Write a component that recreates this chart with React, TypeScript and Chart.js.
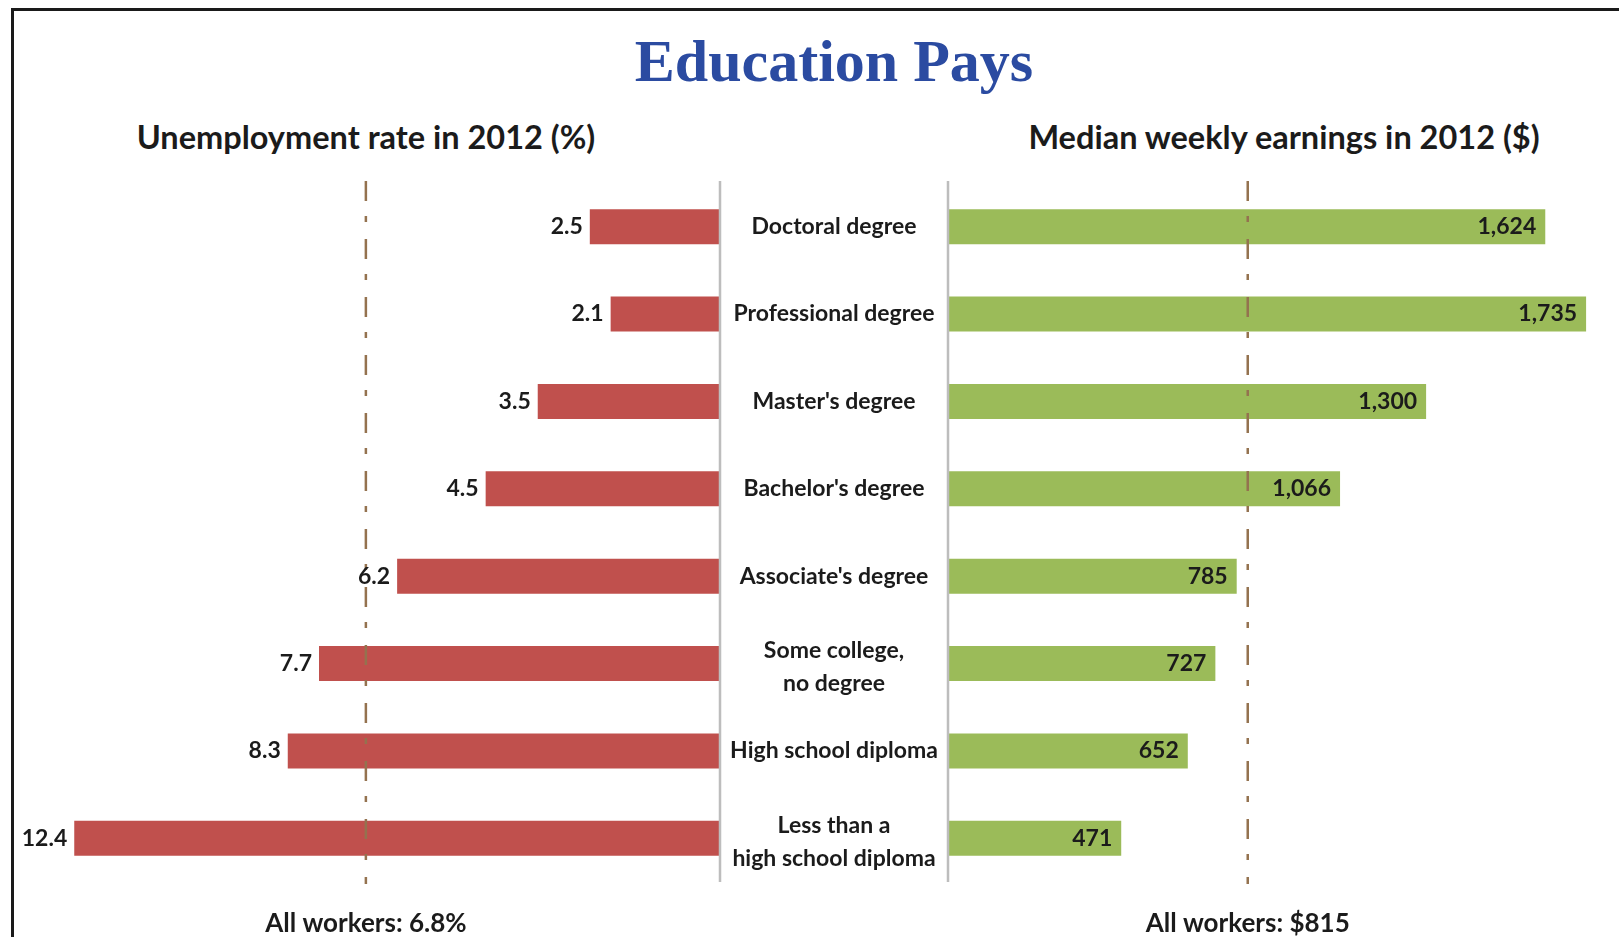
import React, { useEffect, useRef } from "react";
import { Chart, registerables } from "chart.js";

Chart.register(...registerables);

const categories: string[][] = [
  ["Doctoral degree"],
  ["Professional degree"],
  ["Master's degree"],
  ["Bachelor's degree"],
  ["Associate's degree"],
  ["Some college,", "no degree"],
  ["High school diploma"],
  ["Less than a", "high school diploma"],
];
const unemploymentRates = [2.5, 2.1, 3.5, 4.5, 6.2, 7.7, 8.3, 12.4];
const weeklyEarnings = [1624, 1735, 1300, 1066, 785, 727, 652, 471];
const allWorkersRate = 6.8;
const allWorkersEarnings = 815;
const rateAxisMax = 13;
const earningsAxisMax = 1800;

const FONT = "Lato, 'Open Sans', sans-serif";
const RED = "#C0504D";
const GREEN = "#9BBB59";
const DASH_COLOR = "#94724f";
const AXIS_COLOR = "#bdbdbd";
const TEXT = "#1b1b1b";
const TITLE_BLUE = "#2b4ba1";

function drawDashed(ctx: CanvasRenderingContext2D, x: number, top: number, bottom: number) {
  ctx.save();
  ctx.strokeStyle = DASH_COLOR;
  ctx.lineWidth = 2.5;
  ctx.setLineDash([20, 15, 6, 17]);
  ctx.beginPath();
  ctx.moveTo(x, top);
  ctx.lineTo(x, bottom);
  ctx.stroke();
  ctx.restore();
}

function drawAxis(ctx: CanvasRenderingContext2D, x: number, top: number, bottom: number) {
  ctx.save();
  ctx.strokeStyle = AXIS_COLOR;
  ctx.lineWidth = 2.5;
  ctx.beginPath();
  ctx.moveTo(x, top);
  ctx.lineTo(x, bottom);
  ctx.stroke();
  ctx.restore();
}

export default function App() {
  const leftRef = useRef<HTMLCanvasElement>(null);
  const rightRef = useRef<HTMLCanvasElement>(null);

  useEffect(() => {
    const leftPlugin = {
      id: "leftDecor",
      afterDatasetsDraw(chart: any) {
        const ctx = chart.ctx as CanvasRenderingContext2D;
        const area = chart.chartArea;
        const xs = chart.scales.x;
        drawAxis(ctx, area.right, area.top - 2, area.bottom);
        const ax = xs.getPixelForValue(allWorkersRate);
        drawDashed(ctx, ax, area.top - 2, area.bottom + 2);
        ctx.save();
        ctx.fillStyle = TEXT;
        ctx.font = `bold 23px ${FONT}`;
        ctx.textAlign = "right";
        ctx.textBaseline = "middle";
        const meta = chart.getDatasetMeta(0);
        meta.data.forEach((el: any, i: number) => {
          ctx.fillText(unemploymentRates[i].toFixed(1), el.x - 7, el.y);
        });
        ctx.textAlign = "center";
        ctx.font = `bold 26px ${FONT}`;
        ctx.fillText(`All workers: ${allWorkersRate}%`, ax, 924);
        ctx.restore();
      },
    };

    const rightPlugin = {
      id: "rightDecor",
      afterDatasetsDraw(chart: any) {
        const ctx = chart.ctx as CanvasRenderingContext2D;
        const area = chart.chartArea;
        const xs = chart.scales.x;
        const ys = chart.scales.y;
        drawAxis(ctx, area.left, area.top - 2, area.bottom);
        const ax = xs.getPixelForValue(allWorkersEarnings);
        drawDashed(ctx, ax, area.top - 2, area.bottom + 2);
        ctx.save();
        ctx.fillStyle = TEXT;
        ctx.textBaseline = "middle";
        // category labels centred between the two axis lines
        ctx.font = `bold 23px ${FONT}`;
        ctx.textAlign = "center";
        const lh = 33;
        categories.forEach((lines, i) => {
          const cy = ys.getPixelForValue(i);
          const start = cy - ((lines.length - 1) * lh) / 2 + (lines.length > 1 ? 4 : 0);
          lines.forEach((ln, j) => ctx.fillText(ln, area.left / 2, start + j * lh));
        });
        // values inside the bars
        ctx.font = `bold 23px ${FONT}`;
        ctx.textAlign = "right";
        const meta = chart.getDatasetMeta(0);
        meta.data.forEach((el: any, i: number) => {
          ctx.fillText(weeklyEarnings[i].toLocaleString("en-US"), el.x - 9, el.y);
        });
        ctx.textAlign = "center";
        ctx.font = `bold 26px ${FONT}`;
        ctx.fillText(`All workers: $${allWorkersEarnings}`, ax, 924);
        ctx.restore();
      },
    };

    const labels = categories.map((c) => c.join(" "));

    const left = new Chart(leftRef.current!, {
      type: "bar",
      data: {
        labels,
        datasets: [
          {
            data: unemploymentRates,
            backgroundColor: RED,
            borderWidth: 0,
            categoryPercentage: 1,
            barPercentage: 0.4,
          },
        ],
      },
      options: {
        indexAxis: "y",
        responsive: false,
        maintainAspectRatio: false,
        animation: false,
        layout: { padding: { left: 43, right: 4, top: 183, bottom: 55 } },
        scales: {
          x: { type: "linear", reverse: true, min: 0, max: rateAxisMax, display: false },
          y: { display: false },
        },
        plugins: { legend: { display: false }, tooltip: { enabled: false }, title: { display: false } },
      },
      plugins: [leftPlugin],
    });

    const right = new Chart(rightRef.current!, {
      type: "bar",
      data: {
        labels,
        datasets: [
          {
            data: weeklyEarnings,
            backgroundColor: GREEN,
            borderWidth: 0,
            categoryPercentage: 1,
            barPercentage: 0.4,
          },
        ],
      },
      options: {
        indexAxis: "y",
        responsive: false,
        maintainAspectRatio: false,
        animation: false,
        layout: { padding: { left: 228, right: 9, top: 183, bottom: 55 } },
        scales: {
          x: { type: "linear", min: 0, max: earningsAxisMax, display: false },
          y: { display: false },
        },
        plugins: { legend: { display: false }, tooltip: { enabled: false }, title: { display: false } },
      },
      plugins: [rightPlugin],
    });

    return () => {
      left.destroy();
      right.destroy();
    };
  }, []);

  const centered = (x: number, y: number): React.CSSProperties => ({
    position: "absolute",
    left: x,
    top: y,
    transform: "translate(-50%, -50%)",
    whiteSpace: "nowrap",
  });

  return (
    <div
      style={{
        position: "fixed",
        left: 0,
        top: 0,
        width: 1619,
        height: 937,
        overflow: "hidden",
        background: "#fff",
      }}
    >
      <div
        style={{
          position: "absolute",
          left: 11,
          top: 8,
          width: 1700,
          height: 1100,
          borderLeft: "3px solid #1a1a1a",
          borderTop: "3px solid #1a1a1a",
        }}
      />
      <div
        style={{
          ...centered(834, 61),
          fontFamily: "'Liberation Serif', 'DejaVu Serif', serif",
          fontWeight: "bold",
          fontSize: 60,
          color: TITLE_BLUE,
          lineHeight: 1,
        }}
      >
        Education Pays
      </div>
      <div
        style={{
          ...centered(366, 137),
          fontFamily: FONT,
          fontWeight: "bold",
          fontSize: 32.5,
          color: TEXT,
          lineHeight: 1,
        }}
      >
        Unemployment rate in 2012 (%)
      </div>
      <div
        style={{
          ...centered(1284, 137),
          fontFamily: FONT,
          fontWeight: "bold",
          fontSize: 32.5,
          color: TEXT,
          lineHeight: 1,
        }}
      >
        Median weekly earnings in 2012 ($)
      </div>
      <canvas
        ref={leftRef}
        width={724}
        height={937}
        style={{ position: "absolute", left: 0, top: 0, width: 724, height: 937 }}
      />
      <canvas
        ref={rightRef}
        width={899}
        height={937}
        style={{ position: "absolute", left: 720, top: 0, width: 899, height: 937 }}
      />
    </div>
  );
}
